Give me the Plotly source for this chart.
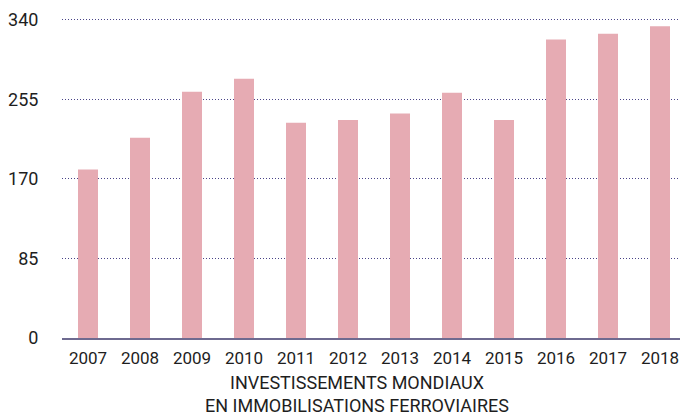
import plotly.graph_objects as go

years = ["2007", "2008", "2009", "2010", "2011", "2012", "2013", "2014", "2015", "2016", "2017", "2018"]
values = [180, 214, 263, 277, 230, 233, 240, 262, 233, 319, 325, 333]
y_ticks = [0, 85, 170, 255, 340]
title_lines = ["INVESTISSEMENTS MONDIAUX", "EN IMMOBILISATIONS FERROVIAIRES"]

L, R, T, B = 62, 0, 17, 78
W, H = 680, 416
plot_w = W - L - R
plot_h = H - T - B
step = 52.0
FONT = "Roboto, sans-serif"

fig = go.Figure(go.Bar(
    x=list(range(len(years))), y=values,
    marker=dict(color="#e6abb3", line=dict(width=0)),
    width=20 / step,
    hoverinfo="skip",
))

fig.update_layout(
    width=W, height=H,
    margin=dict(l=L, r=R, t=T, b=B, pad=0),
    paper_bgcolor="white", plot_bgcolor="white",
    font=dict(family=FONT, size=16, color="#1e1e1e"),
    showlegend=False,
    xaxis=dict(
        range=[-0.5, -0.5 + plot_w / step],
        tickmode="array", tickvals=list(range(len(years))), ticktext=years,
        showgrid=False, zeroline=False,
        showline=True, linecolor="#6e6a90", linewidth=2,
        ticks="outside", ticklen=4, tickcolor="rgba(0,0,0,0)",
        tickfont=dict(family=FONT, size=17, color="#1e1e1e"),
        ticklabeloverflow="allow",
    ),
    yaxis=dict(
        range=[0, 343],
        tickmode="array", tickvals=y_ticks, ticktext=[str(v) for v in y_ticks],
        showgrid=True, gridcolor="#4a4488", gridwidth=1, griddash="1px,2px",
        zeroline=False, showline=False,
        ticks="outside", ticklen=19, tickcolor="rgba(0,0,0,0)",
        tickfont=dict(family=FONT, size=18, color="#1e1e1e"),
    ),
)

cx = (357 - L) / plot_w
for line, ypx in zip(title_lines, [383, 405]):
    fig.add_annotation(
        text=line, xref="paper", yref="paper",
        x=cx, y=(H - B - ypx) / plot_h,
        xanchor="center", yanchor="middle", showarrow=False,
        font=dict(family=FONT, size=18, color="#1e1e1e"),
    )

fig.write_html(
    "out.html",
    config={"displayModeBar": False},
    post_script="document.body.style.margin='0';document.body.style.padding='0';",
)
